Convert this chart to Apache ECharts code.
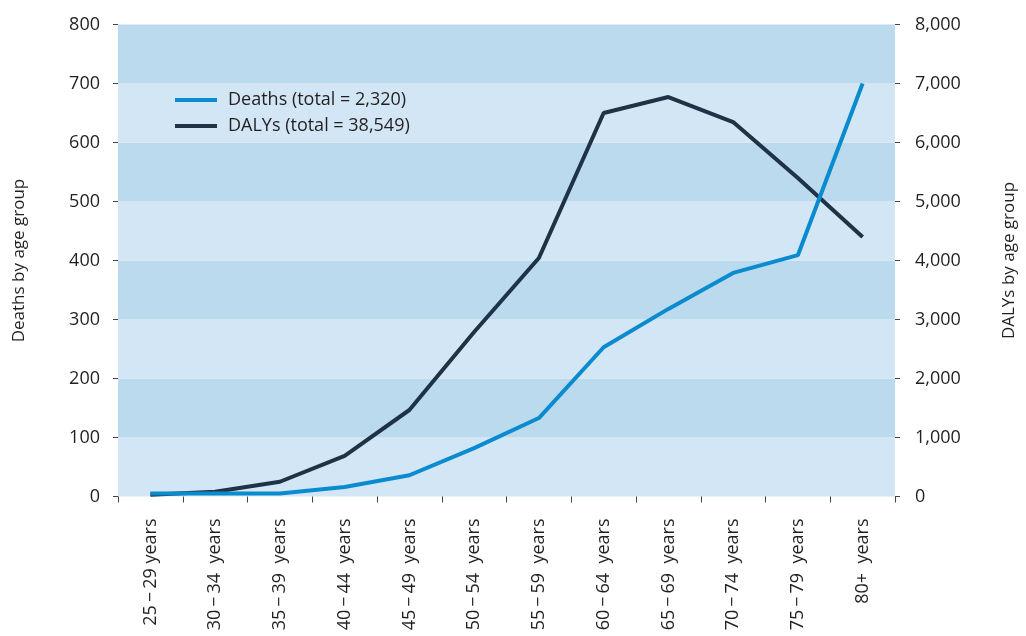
<!DOCTYPE html>
<html>
<head>
<meta charset="utf-8">
<script src="https://cdn.jsdelivr.net/npm/echarts@6/dist/echarts.min.js"></script>
<style>
html,body{margin:0;padding:0;background:#fff;}
#c{width:1026px;height:636px;}
</style>
</head>
<body>
<div id="c"></div>
<script>
var categories = ['25\u2009\u2212\u200929 years','30\u2009\u2212\u200934  years','35\u2009\u2212\u200939  years','40\u2009\u2212\u200944  years','45\u2009\u2212\u200949  years','50\u2009\u2212\u200954  years','55\u2009\u2212\u200959  years','60\u2009\u2212\u200964  years','65\u2009\u2212\u200969  years','70\u2009\u2212\u200974  years','75\u2009\u2212\u200979  years','80+  years'];
var deaths = [5, 5, 5, 16, 36, 82, 133, 253, 318, 379, 409, 700];
var dalys = [30, 80, 250, 690, 1466, 2788, 4042, 6500, 6771, 6347, 5398, 4398];
var seriesNames = ['Deaths (total = 2,320)', 'DALYs (total = 38,549)'];
var leftAxisName = 'Deaths by age group';
var rightAxisName = 'DALYs by age group';

var FONT = 'Open Sans';
var TXT = '#231f20';
var chart = echarts.init(document.getElementById('c'), null, {renderer:'canvas'});
chart.setOption({
  animation: false,
  textStyle: {fontFamily: FONT, color: TXT},
  grid: {left: 118, right: 129, top: 24.5, bottom: 139.5, containLabel: false},
  legend: {
    orient: 'vertical', left: 170, top: 86,
    icon: 'rect', itemWidth: 42, itemHeight: 4, itemGap: 8,
    textStyle: {fontFamily: FONT, fontSize: 18, color: TXT, padding: [0,0,0,6]},
    data: seriesNames
  },
  xAxis: {
    type: 'category', data: categories, boundaryGap: true,
    axisLine: {show: false},
    axisTick: {show: true, length: 6, lineStyle: {color: '#444', width: 1}},
    axisLabel: {rotate: 90, margin: 22, fontSize: 18, color: TXT, fontFamily: FONT, interval: 0},
    splitLine: {show: false}
  },
  yAxis: [{
    type: 'value', min: 0, max: 800, interval: 100,
    name: leftAxisName, nameLocation: 'middle', nameRotate: 90, nameGap: 90,
    nameTextStyle: {fontSize: 17, color: TXT, fontFamily: FONT},
    axisLine: {show: false},
    axisTick: {show: true, length: 5, lineStyle: {color: '#444'}},
    axisLabel: {margin: 18, fontSize: 18, color: TXT, fontFamily: FONT},
    splitLine: {show: false},
    splitArea: {show: true, areaStyle: {color: ['#d3e6f5', '#bcdaee']}}
  }, {
    type: 'value', min: 0, max: 8000, interval: 1000, position: 'right',
    name: rightAxisName, nameLocation: 'middle', nameRotate: 90, nameGap: 106,
    nameTextStyle: {fontSize: 17, color: TXT, fontFamily: FONT},
    axisLine: {show: false},
    axisTick: {show: true, length: 5, lineStyle: {color: '#444'}},
    axisLabel: {margin: 20, fontSize: 18, color: TXT, fontFamily: FONT,
      formatter: function(v){ return v.toLocaleString('en-US'); }},
    splitLine: {show: false},
    splitArea: {show: false}
  }],
  series: [{
    name: seriesNames[0], type: 'line', yAxisIndex: 0, data: deaths,
    showSymbol: false, symbol: 'none',
    lineStyle: {color: '#0a8bcf', width: 4}, itemStyle: {color: '#0a8bcf'}, z: 3
  }, {
    name: seriesNames[1], type: 'line', yAxisIndex: 1, data: dalys,
    showSymbol: false, symbol: 'none',
    lineStyle: {color: '#1f3346', width: 4}, itemStyle: {color: '#1f3346'}, z: 2
  }]
});
</script>
</body>
</html>
